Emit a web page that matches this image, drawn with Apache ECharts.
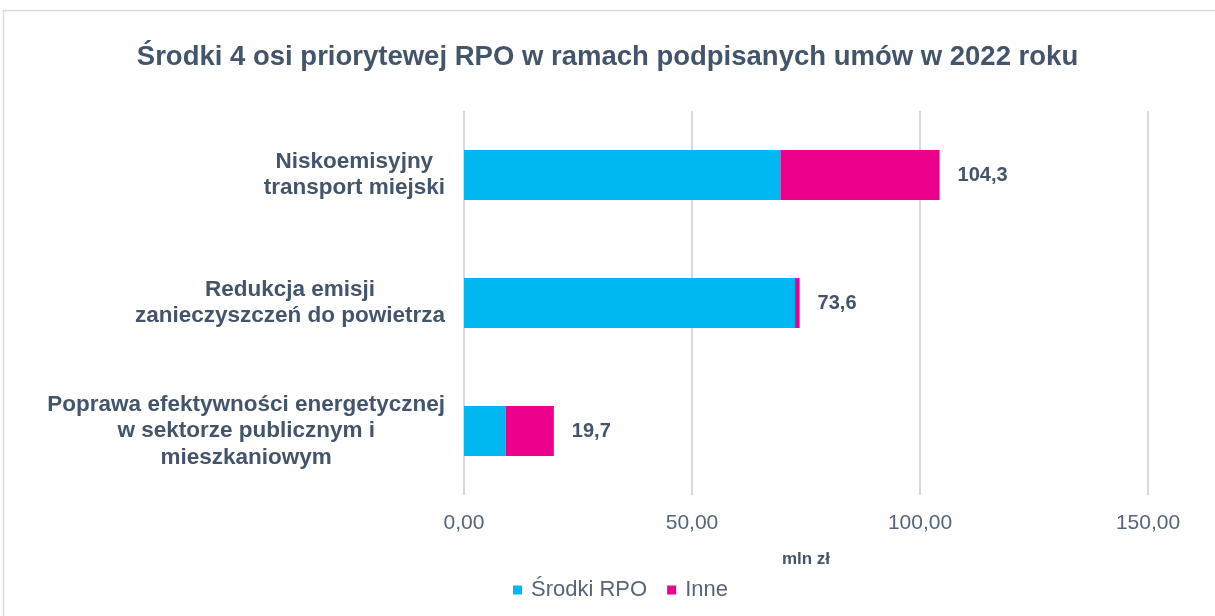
<!DOCTYPE html>
<html><head><meta charset="utf-8">
<script src="https://cdn.jsdelivr.net/npm/echarts@6/dist/echarts.min.js"></script>
<style>html,body{margin:0;padding:0;background:#fff}#c{width:1215px;height:616px}</style>
</head><body><div id="c"></div>
<script>
const categories = ['Poprawa efektywności energetycznej\nw sektorze publicznym i\nmieszkaniowym', 'Redukcja emisji\nzanieczyszczeń do powietrza', 'Niskoemisyjny\ntransport miejski'];
const srodkiRPO = [9.1, 72.6, 69.4];
const inne = [10.6, 1.0, 34.9];
const totals = [19.7, 73.6, 104.3];
const xTicks = [0, 50, 100, 150];

const chart = echarts.init(document.getElementById('c'));
const F = 'Liberation Sans, Arial, sans-serif';
chart.setOption({
  animation: false,
  graphic: [{type:'rect', shape:{x:3.5,y:10.5,width:1240,height:640}, style:{fill:'none', stroke:'#d9d9d9', lineWidth:1.5}}],
  title: {text:'Środki 4 osi priorytewej RPO w ramach podpisanych umów w 2022 roku', left:'center', top:38,
    textStyle:{fontFamily:F, fontSize:27.5, fontWeight:'bold', color:'#44546A'}},
  legend: {data:['Środki RPO','Inne'], top:574, left:508, itemWidth:9, itemHeight:9, itemGap:20,
    icon:'rect', textStyle:{fontFamily:F, fontSize:22, color:'#586579', padding:[0,0,0,4]}},
  grid: {left:464, right:67, top:111, bottom:121},
  xAxis: {type:'value', min:0, max:150, interval:50,
    name:'mln zł', nameLocation:'middle', nameGap:56,
    nameTextStyle:{fontFamily:F, fontSize:17, fontWeight:'bold', color:'#44546A'},
    axisLine:{show:false}, axisTick:{show:false},
    splitLine:{lineStyle:{color:'#d9d9d9', width:2}},
    axisLabel:{fontFamily:F, fontSize:21, color:'#586579', margin:18,
      formatter: v => xTicks.includes(v) ? v.toFixed(2).replace('.', ',') : ''}},
  yAxis: {type:'category', data:categories, axisLine:{show:false}, axisTick:{show:false},
    axisLabel:{align:'right', margin:19,
      formatter: v => v.split('\n').map(l => '{c|' + l + '}').join('\n'),
      rich:{c:{fontFamily:F, fontSize:22.5, fontWeight:'bold', color:'#44546A', lineHeight:26.5, align:'center'}}}},
  series: [
    {name:'Środki RPO', type:'bar', stack:'a', data:srodkiRPO, barWidth:50, itemStyle:{color:'#00B8F1'}},
    {name:'Inne', type:'bar', stack:'a', data:inne, barWidth:50, itemStyle:{color:'#EC008C'},
      label:{show:true, position:'right', distance:18, fontFamily:F, fontSize:20, fontWeight:'bold', color:'#44546A',
        formatter: p => totals[p.dataIndex].toFixed(1).replace('.', ',')}}
  ]
});
</script></body></html>
